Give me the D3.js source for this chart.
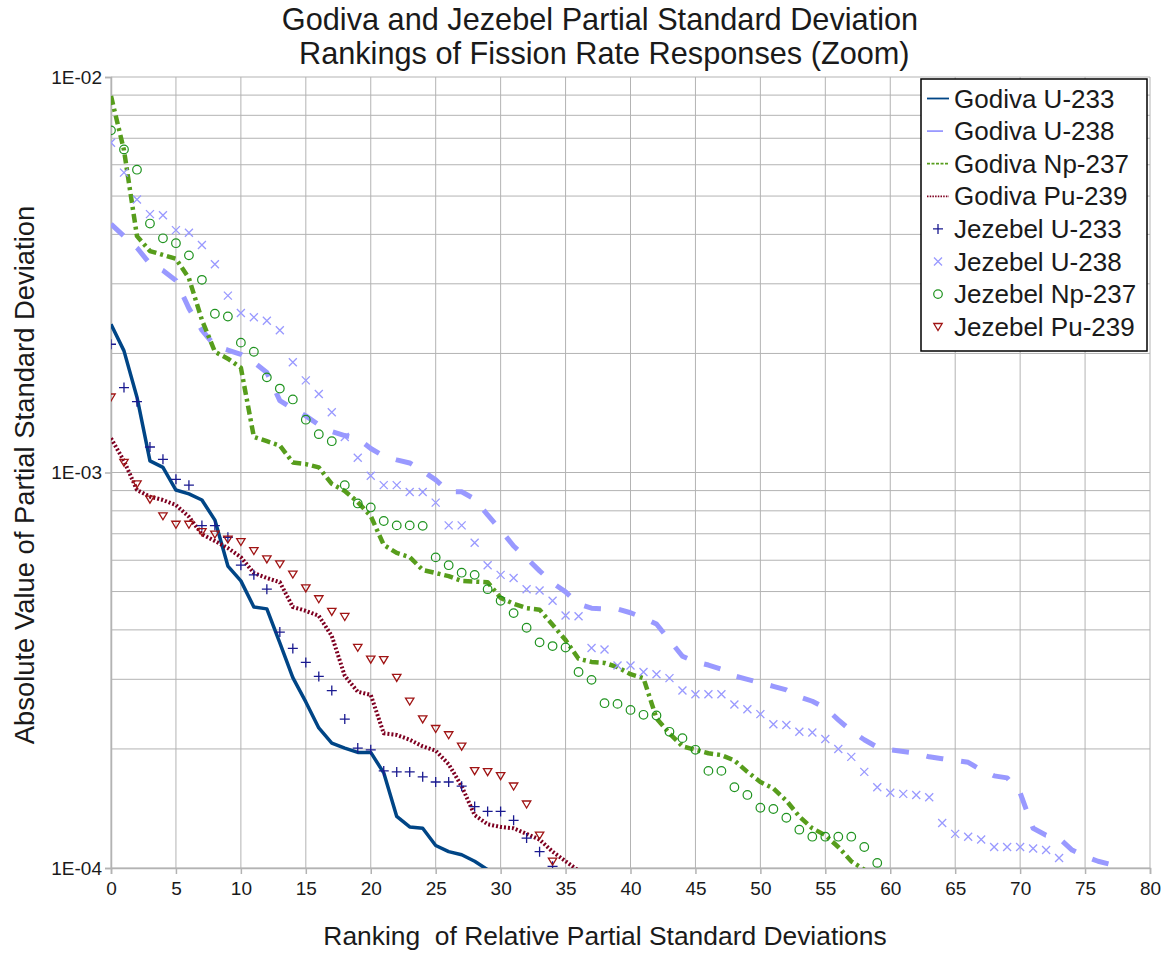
<!DOCTYPE html>
<html>
<head>
<meta charset="utf-8">
<script src="https://cdn.jsdelivr.net/npm/d3@7"></script>
<style>
  html, body { margin: 0; padding: 0; background: #fff; }
  svg { display: block; font-family: "Liberation Sans", Arial, sans-serif; }
</style>
</head>
<body>
<svg id="chart" width="1165" height="953"></svg>
<script>
// Absolute partial standard deviations, ordered by rank (index = rank)
const godivaU233 = [2.37e-3, 2.03e-3, 1.55e-3, 1.07e-3, 1.03e-3, 9.03e-4, 8.83e-4, 8.52e-4, 7.58e-4, 5.80e-4,
  5.32e-4, 4.57e-4, 4.52e-4, 3.71e-4, 3.03e-4, 2.63e-4, 2.26e-4, 2.07e-4, 2.01e-4, 1.96e-4,
  1.96e-4, 1.74e-4, 1.35e-4, 1.27e-4, 1.26e-4, 1.14e-4, 1.10e-4, 1.08e-4, 1.04e-4, 9.9e-5];

const godivaU238 = [4.25e-3, 3.96e-3, 3.70e-3, 3.37e-3, 3.24e-3, 3.06e-3, 2.60e-3, 2.29e-3, 2.09e-3, 2.04e-3,
  1.99e-3, 1.90e-3, 1.79e-3, 1.52e-3, 1.45e-3, 1.39e-3, 1.32e-3, 1.27e-3, 1.24e-3, 1.22e-3,
  1.15e-3, 1.10e-3, 1.076e-3, 1.057e-3, 1.009e-3, 9.58e-4, 8.94e-4, 8.94e-4, 8.57e-4, 7.81e-4,
  7.16e-4, 6.52e-4, 6.08e-4, 5.64e-4, 5.26e-4, 4.99e-4, 4.65e-4, 4.54e-4, 4.52e-4, 4.52e-4,
  4.42e-4, 4.29e-4, 4.14e-4, 3.77e-4, 3.43e-4, 3.32e-4, 3.26e-4, 3.18e-4, 3.06e-4, 3.00e-4,
  2.94e-4, 2.88e-4, 2.82e-4, 2.71e-4, 2.64e-4, 2.54e-4, 2.37e-4, 2.22e-4, 2.11e-4, 2.02e-4,
  1.99e-4, 1.97e-4, 1.95e-4, 1.91e-4, 1.89e-4, 1.87e-4, 1.85e-4, 1.77e-4, 1.71e-4, 1.69e-4,
  1.55e-4, 1.26e-4, 1.21e-4, 1.19e-4, 1.11e-4, 1.07e-4, 1.04e-4, 1.02e-4];

const godivaNp237 = [8.95e-3, 6.53e-3, 3.96e-3, 3.63e-3, 3.55e-3, 3.47e-3, 3.10e-3, 2.43e-3, 2.02e-3, 1.94e-3,
  1.84e-3, 1.23e-3, 1.20e-3, 1.17e-3, 1.06e-3, 1.05e-3, 1.03e-3, 9.36e-4, 8.98e-4, 8.42e-4,
  7.76e-4, 6.56e-4, 6.26e-4, 6.11e-4, 5.67e-4, 5.57e-4, 5.47e-4, 5.32e-4, 5.30e-4, 5.28e-4,
  4.82e-4, 4.66e-4, 4.54e-4, 4.50e-4, 4.12e-4, 3.77e-4, 3.38e-4, 3.32e-4, 3.30e-4, 3.22e-4,
  3.09e-4, 3.02e-4, 2.39e-4, 2.19e-4, 2.03e-4, 1.99e-4, 1.95e-4, 1.93e-4, 1.87e-4, 1.75e-4,
  1.65e-4, 1.59e-4, 1.48e-4, 1.35e-4, 1.26e-4, 1.21e-4, 1.13e-4, 1.04e-4, 9.9e-5];

const godivaPu239 = [1.22e-3, 1.07e-3, 9.03e-4, 8.69e-4, 8.52e-4, 8.27e-4, 7.73e-4, 6.98e-4, 6.71e-4, 6.44e-4,
  6.11e-4, 5.57e-4, 5.41e-4, 5.28e-4, 4.57e-4, 4.47e-4, 4.34e-4, 3.86e-4, 3.06e-4, 2.79e-4,
  2.74e-4, 2.19e-4, 2.17e-4, 2.11e-4, 2.03e-4, 1.98e-4, 1.83e-4, 1.61e-4, 1.36e-4, 1.29e-4,
  1.27e-4, 1.26e-4, 1.22e-4, 1.18e-4, 1.10e-4, 1.04e-4, 9.85e-5];

const jezebelU233 = [2.11e-3, 1.64e-3, 1.51e-3, 1.16e-3, 1.08e-3, 9.61e-4, 9.29e-4, 7.34e-4, 7.34e-4, 6.86e-4,
  5.83e-4, 5.51e-4, 5.07e-4, 3.95e-4, 3.59e-4, 3.31e-4, 3.05e-4, 2.81e-4, 2.38e-4, 2.01e-4,
  1.99e-4, 1.76e-4, 1.75e-4, 1.75e-4, 1.70e-4, 1.65e-4, 1.65e-4, 1.61e-4, 1.43e-4, 1.39e-4,
  1.39e-4, 1.32e-4, 1.19e-4, 1.10e-4, 1.01e-4];

const jezebelU238 = [6.82e-3, 5.73e-3, 4.90e-3, 4.50e-3, 4.47e-3, 4.10e-3, 4.04e-3, 3.76e-3, 3.36e-3, 2.80e-3,
  2.53e-3, 2.47e-3, 2.42e-3, 2.29e-3, 1.90e-3, 1.71e-3, 1.58e-3, 1.42e-3, 1.23e-3, 1.09e-3,
  9.81e-4, 9.29e-4, 9.29e-4, 8.93e-4, 8.93e-4, 8.39e-4, 7.35e-4, 7.35e-4, 6.64e-4, 5.83e-4,
  5.51e-4, 5.41e-4, 5.07e-4, 5.03e-4, 4.74e-4, 4.35e-4, 4.33e-4, 3.60e-4, 3.57e-4, 3.25e-4,
  3.25e-4, 3.13e-4, 3.09e-4, 3.02e-4, 2.81e-4, 2.75e-4, 2.75e-4, 2.75e-4, 2.59e-4, 2.52e-4,
  2.45e-4, 2.31e-4, 2.30e-4, 2.21e-4, 2.20e-4, 2.12e-4, 2.00e-4, 1.91e-4, 1.75e-4, 1.60e-4,
  1.55e-4, 1.54e-4, 1.53e-4, 1.51e-4, 1.30e-4, 1.22e-4, 1.20e-4, 1.18e-4, 1.13e-4, 1.13e-4,
  1.13e-4, 1.12e-4, 1.11e-4, 1.06e-4];

const jezebelNp237 = [7.33e-3, 6.56e-3, 5.83e-3, 4.26e-3, 3.91e-3, 3.80e-3, 3.54e-3, 3.07e-3, 2.52e-3, 2.48e-3,
  2.13e-3, 2.02e-3, 1.74e-3, 1.63e-3, 1.53e-3, 1.36e-3, 1.25e-3, 1.20e-3, 9.29e-4, 8.35e-4,
  8.16e-4, 7.54e-4, 7.35e-4, 7.35e-4, 7.33e-4, 6.10e-4, 5.83e-4, 5.58e-4, 5.51e-4, 5.07e-4,
  4.74e-4, 4.41e-4, 4.05e-4, 3.72e-4, 3.64e-4, 3.61e-4, 3.13e-4, 2.99e-4, 2.61e-4, 2.60e-4,
  2.51e-4, 2.44e-4, 2.43e-4, 2.21e-4, 2.13e-4, 1.99e-4, 1.76e-4, 1.76e-4, 1.60e-4, 1.53e-4,
  1.42e-4, 1.41e-4, 1.34e-4, 1.25e-4, 1.20e-4, 1.20e-4, 1.20e-4, 1.20e-4, 1.13e-4, 1.03e-4];

const jezebelPu239 = [1.55e-3, 1.06e-3, 9.35e-4, 8.55e-4, 7.76e-4, 7.39e-4, 7.39e-4, 7.08e-4, 6.98e-4, 6.78e-4,
  6.68e-4, 6.34e-4, 6.04e-4, 5.87e-4, 5.53e-4, 5.10e-4, 4.79e-4, 4.45e-4, 4.32e-4, 3.61e-4,
  3.37e-4, 3.36e-4, 3.03e-4, 2.64e-4, 2.38e-4, 2.25e-4, 2.17e-4, 2.03e-4, 1.76e-4, 1.75e-4,
  1.71e-4, 1.61e-4, 1.45e-4, 1.21e-4, 1.04e-4];

const xTicks = [0, 5, 10, 15, 20, 25, 30, 35, 40, 45, 50, 55, 60, 65, 70, 75, 80];
const yTicks = [1e-4, 1e-3, 1e-2];
const yTickLabels = ["1E-04", "1E-03", "1E-02"];

const titleLines = ["Godiva and Jezebel Partial Standard Deviation", " Rankings of Fission Rate Responses (Zoom)"];
const xTitle = "Ranking  of Relative Partial Standard Deviations";
const yTitle = "Absolute Value of Partial Standard Deviation";

// Series definitions: lines for Godiva, open markers for Jezebel
const lineSeries = [
  { name: "Godiva U-233", values: godivaU233, color: "#004586", width: 3.5, dash: null, legendDash: null },
  { name: "Godiva U-238", values: godivaU238, color: "#9999ff", width: 5, dash: "17,18", legendDash: "16,6" },
  { name: "Godiva Np-237", values: godivaNp237, color: "#579d1c", width: 4.5, dash: "9,4,3,4", legendDash: "3,1.5" },
  { name: "Godiva Pu-239", values: godivaPu239, color: "#7e0021", width: 4, dash: "2,2", legendDash: "1.5,1.2" }
];
const markerSeries = [
  { name: "Jezebel U-233", values: jezebelU233, color: "#1a1a90", shape: "plus" },
  { name: "Jezebel U-238", values: jezebelU238, color: "#9999ff", shape: "cross" },
  { name: "Jezebel Np-237", values: jezebelNp237, color: "#1f931f", shape: "circle" },
  { name: "Jezebel Pu-239", values: jezebelPu239, color: "#a01414", shape: "triangle" }
];

const svg = d3.select("#chart");
const plotLeft = 111, plotRight = 1150, plotTop = 77, plotBottom = 868;

const x = d3.scaleLinear().domain([0, 80]).range([plotLeft, plotRight]);
const y = d3.scaleLog().domain([1e-4, 1e-2]).range([plotBottom, plotTop]);

const gridColor = "#b3b3b3";

// Grid: vertical at each x tick, horizontal at 1..9 of each decade
const grid = svg.append("g");
grid.selectAll("line.v").data(xTicks).join("line")
  .attr("x1", d => x(d)).attr("x2", d => x(d))
  .attr("y1", plotTop).attr("y2", plotBottom)
  .attr("stroke", gridColor).attr("stroke-width", 1);
const minorY = [];
[1e-4, 1e-3].forEach(dec => { for (let k = 1; k <= 9; k++) minorY.push(dec * k); });
minorY.push(1e-2);
grid.selectAll("line.h").data(minorY).join("line")
  .attr("x1", plotLeft).attr("x2", plotRight)
  .attr("y1", d => y(d)).attr("y2", d => y(d))
  .attr("stroke", gridColor).attr("stroke-width", 1);

// Axes
const xAxis = svg.append("g").attr("transform", `translate(0,${plotBottom})`)
  .call(d3.axisBottom(x).tickValues(xTicks).tickSize(6).tickPadding(8).tickFormat(d3.format("d")));
const yAxis = svg.append("g").attr("transform", `translate(${plotLeft},0)`)
  .call(d3.axisLeft(y).tickValues(yTicks).tickSize(6).tickPadding(3)
    .tickFormat((d, i) => yTickLabels[i]));
[xAxis, yAxis].forEach(g => {
  g.select(".domain").attr("stroke", gridColor).attr("stroke-width", 1.5);
  g.selectAll(".tick line").attr("stroke", gridColor).attr("stroke-width", 1.5);
  g.selectAll(".tick text").attr("fill", "#1a1a1a")
    .style("font-family", "'Liberation Sans', Arial, sans-serif").style("font-size", "19px");
});

// Clip region for the data
svg.append("clipPath").attr("id", "plotClip")
  .append("rect").attr("x", plotLeft).attr("y", plotTop - 2)
  .attr("width", plotRight - plotLeft).attr("height", plotBottom - plotTop + 2);

const line = d3.line().x((d, i) => x(i)).y(d => y(d));

const lines = svg.append("g").attr("clip-path", "url(#plotClip)");
lineSeries.forEach(s => {
  lines.append("path")
    .datum(s.values)
    .attr("d", line)
    .attr("fill", "none")
    .attr("stroke", s.color)
    .attr("stroke-width", s.width)
    .attr("stroke-linejoin", "round")
    .attr("stroke-dasharray", s.dash);
});

// Marker shapes
function markerPath(shape) {
  switch (shape) {
    case "plus": return "M-5,0H5M0,-5V5";
    case "cross": return "M-4,-4L4,4M-4,4L4,-4";
    case "triangle": return "M-4.2,-3.2L4.2,-3.2L0,3.8Z";
    default: return null;
  }
}
function drawMarker(g, shape, color) {
  if (shape === "circle") {
    g.append("circle").attr("r", 4.3).attr("fill", "none").attr("stroke", color).attr("stroke-width", 1.2);
  } else {
    g.append("path").attr("d", markerPath(shape)).attr("fill", "none")
      .attr("stroke", color).attr("stroke-width", 1.3);
  }
}

const markers = svg.append("g").attr("clip-path", "url(#plotClip)");
markerSeries.forEach(s => {
  markers.append("g").selectAll("g").data(s.values).join("g")
    .attr("transform", (d, i) => `translate(${x(i)},${y(d)})`)
    .each(function () { drawMarker(d3.select(this), s.shape, s.color); });
});

// Title
const title = svg.append("text").attr("text-anchor", "middle")
  .attr("fill", "#1a1a1a").style("font-size", "30.7px").style("white-space", "pre");
title.selectAll("tspan").data(titleLines).join("tspan")
  .attr("x", 600).attr("y", (d, i) => 30 + i * 34)
  .text(d => d);

// Axis titles
svg.append("text").attr("x", 605).attr("y", 945).attr("text-anchor", "middle")
  .attr("fill", "#1a1a1a").style("font-size", "26.4px").style("white-space", "pre")
  .text(xTitle);
svg.append("text").attr("transform", "translate(34,475) rotate(-90)").attr("text-anchor", "middle")
  .attr("fill", "#1a1a1a").style("font-size", "27.4px")
  .text(yTitle);

// Legend
const legend = svg.append("g");
legend.append("rect").attr("x", 921).attr("y", 79).attr("width", 226).attr("height", 272)
  .attr("fill", "#fff").attr("stroke", "#000").attr("stroke-width", 1.5);
const legendItems = lineSeries.map(s => ({ ...s, kind: "line" }))
  .concat(markerSeries.map(s => ({ ...s, kind: "marker" })));
legendItems.forEach((s, i) => {
  const cy = 98.5 + i * 32.6;
  const g = legend.append("g");
  if (s.kind === "line") {
    g.append("line").attr("x1", 927).attr("x2", 949).attr("y1", cy).attr("y2", cy)
      .attr("stroke", s.color).attr("stroke-width", 1.8)
      .attr("stroke-dasharray", s.legendDash);
  } else {
    const mg = g.append("g").attr("transform", `translate(938,${cy})`);
    drawMarker(mg, s.shape, s.color);
  }
  g.append("text").attr("x", 954).attr("y", cy).attr("dy", "0.35em")
    .attr("fill", "#1a1a1a").style("font-size", "26px").text(s.name);
});
</script>
</body>
</html>
